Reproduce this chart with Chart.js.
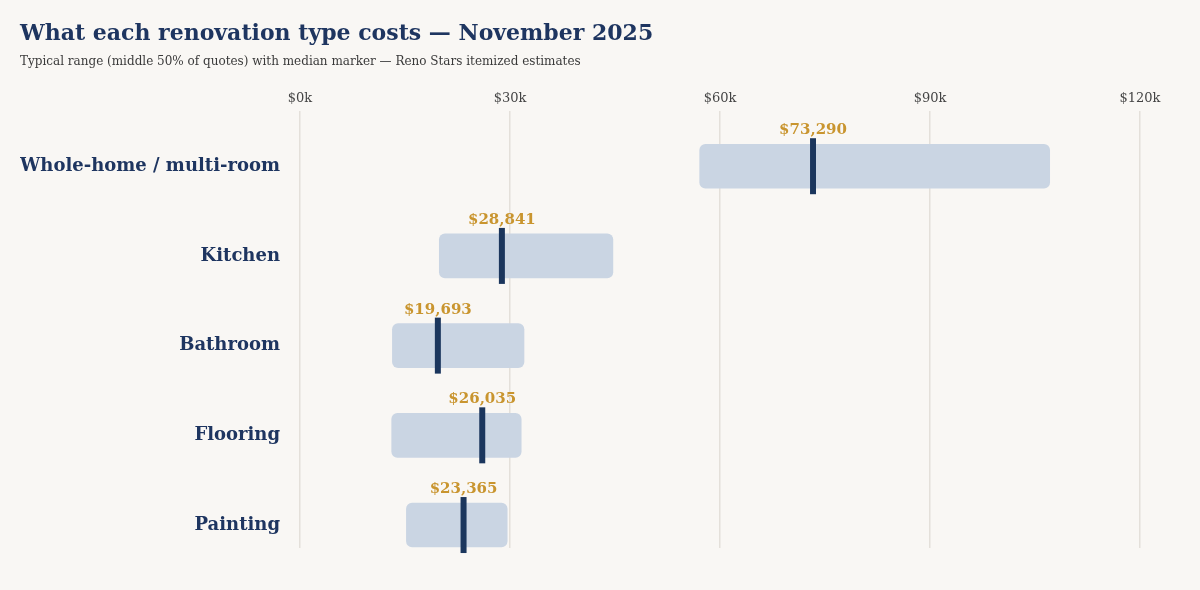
<!DOCTYPE html>
<html>
<head>
<meta charset="utf-8">
<script src="https://cdn.jsdelivr.net/npm/chart.js@4.4.0/dist/chart.umd.min.js"></script>
<style>
  body { margin: 0; background: #f9f7f4; }
  #wrap { width: 1200px; height: 590px; }
</style>
</head>
<body>
<div id="wrap"><canvas id="chart"></canvas></div>
<script>
// renovation types, top to bottom
var categories = ["Whole-home / multi-room", "Kitchen", "Bathroom", "Flooring", "Painting"];
// middle 50% of quotes (25th / 75th percentile), dollars
var lowQuartile = [57100, 19900, 13200, 13100, 15200];
var highQuartile = [107100, 44700, 32000, 31600, 29600];
var medians = [73290, 28841, 19693, 26035, 23365];
var xTicks = [0, 30000, 60000, 90000, 120000];

var navy = "#1e3560";
var gold = "#c9952f";
var serif = "'DejaVu Serif', Georgia, serif";

var rangeData = categories.map(function (c, i) {
  return { x: [lowQuartile[i], highQuartile[i]], y: i };
});
var medianData = categories.map(function (c, i) {
  return { x: medians[i], y: i };
});

// dollar label above each median marker
var medianLabels = {
  id: "medianLabels",
  afterDatasetsDraw: function (chart) {
    var ctx = chart.ctx;
    var xs = chart.scales.x, ys = chart.scales.y;
    ctx.save();
    ctx.font = "bold 15px " + serif;
    ctx.fillStyle = gold;
    ctx.textAlign = "center";
    ctx.textBaseline = "alphabetic";
    medians.forEach(function (m, i) {
      var px = xs.getPixelForValue(m);
      var py = ys.getPixelForValue(i);
      ctx.fillText("$" + m.toLocaleString("en-US"), px, py - 32);
    });
    ctx.restore();
  }
};

new Chart(document.getElementById("chart"), {
  type: "bar",
  data: {
    datasets: [
      {
        type: "scatter",
        data: medianData,
        clip: false,
        pointStyle: "line",
        rotation: 90,
        radius: 28,
        hoverRadius: 28,
        borderWidth: 6,
        hoverBorderWidth: 6,
        borderColor: "#1b365d",
        backgroundColor: "#1b365d"
      },
      {
        data: rangeData,
        backgroundColor: "#cad5e3",
        borderRadius: 6,
        borderSkipped: false,
        barThickness: 44
      }
    ]
  },
  options: {
    indexAxis: "y",
    responsive: true,
    maintainAspectRatio: false,
    animation: false,
    layout: { padding: { left: 20, right: 60, top: 0, bottom: 42 } },
    plugins: {
      legend: { display: false },
      tooltip: { enabled: false },
      title: {
        display: true,
        text: "What each renovation type costs \u2014 November 2025",
        align: "start",
        color: navy,
        font: { family: serif, size: 22, weight: "bold", lineHeight: 1.2 },
        padding: { top: 21, bottom: 7 }
      },
      subtitle: {
        display: true,
        text: "Typical range (middle 50% of quotes) with median marker \u2014 Reno Stars itemized estimates",
        align: "start",
        color: "#3a3a3a",
        font: { family: serif, size: 12, lineHeight: 1.2 },
        padding: { top: 0, bottom: 17 }
      }
    },
    scales: {
      x: {
        type: "linear",
        position: "top",
        min: 0,
        max: 120000,
        afterBuildTicks: function (s) {
          s.ticks = xTicks.map(function (v) { return { value: v }; });
        },
        ticks: {
          color: "#444",
          padding: 5,
          font: { family: serif, size: 13 },
          callback: function (v) { return "$" + v / 1000 + "k"; }
        },
        grid: { color: "#e4e0da", lineWidth: 1.5, drawTicks: false },
        border: { display: false }
      },
      y: {
        type: "linear",
        offset: false,
        reverse: true,
        min: -0.611,
        max: 4.256,
        afterBuildTicks: function (s) {
          s.ticks = categories.map(function (c, i) { return { value: i }; });
        },
        afterFit: function (s) { s.width = 280; },
        ticks: {
          color: navy,
          padding: 12,
          font: { family: serif, size: 18, weight: "bold" },
          callback: function (v) { return categories[v]; }
        },
        grid: { display: false },
        border: { display: false }
      }
    }
  },
  plugins: [medianLabels]
});
</script>
</body>
</html>
